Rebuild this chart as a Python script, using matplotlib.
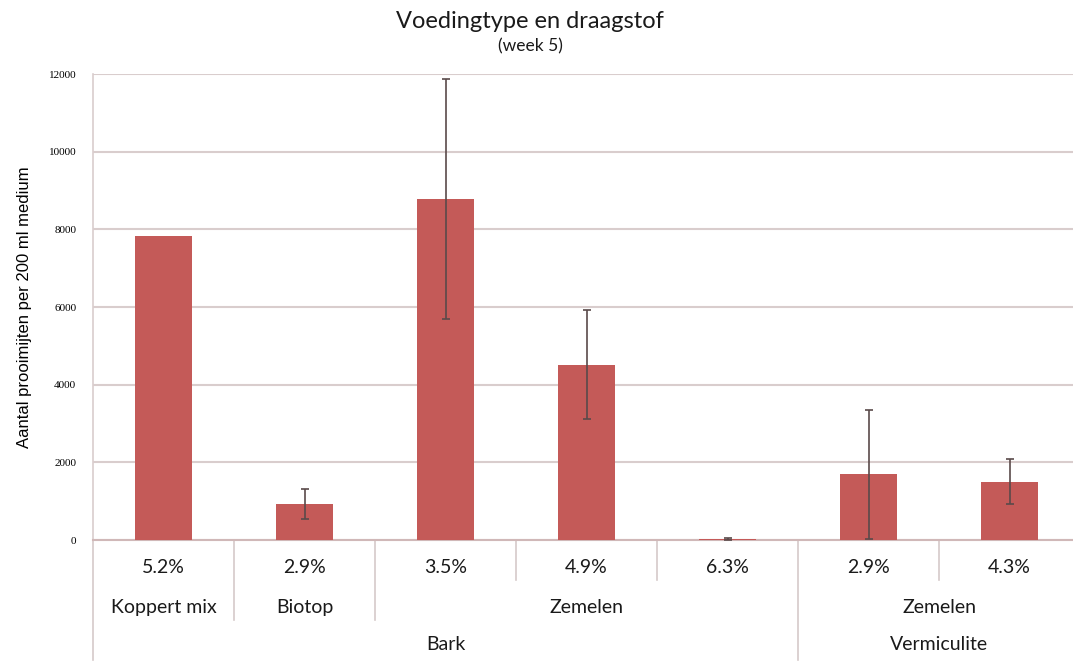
import numpy as np
import matplotlib
matplotlib.use("Agg")
import matplotlib.pyplot as plt

# values (week 5)
percentages = ["5.2%", "2.9%", "3.5%", "4.9%", "6.3%", "2.9%", "4.3%"]
counts = [7830, 930, 8780, 4520, 30, 1690, 1500]
errors = [0, 380, 3100, 1400, 20, 1660, 580]
has_err = [False, True, True, True, True, True, True]

# grouping levels of the category axis: (label, number of bars)
voeding = [("Koppert mix", 1), ("Biotop", 1), ("Zemelen", 3), ("Zemelen", 2)]
draagstof = [("Bark", 5), ("Vermiculite", 2)]

bar_color = "#C45A58"
grid_color = "#D9CDCD"
sep_color = "#D6CACA"
text_color = "#1a1a1a"
label_font = ["Lato", "DejaVu Sans"]

fig = plt.figure(figsize=(10.73, 6.61), dpi=100)
ax = fig.add_axes([0.0867, 0.183, 0.9133, 0.705])

x = np.arange(len(counts))
ax.bar(x, counts, width=0.4, color=bar_color, zorder=3)
ex = [xi for xi, h in zip(x, has_err) if h]
ey = [c for c, h in zip(counts, has_err) if h]
ee = [e for e, h in zip(errors, has_err) if h]
ax.errorbar(ex, ey, yerr=ee, fmt="none", ecolor="#5a4a4a", elinewidth=1.2,
            capsize=3, capthick=1.2, zorder=4)

ax.set_xlim(-0.5, 6.45)
ax.set_ylim(0, 12000)
ax.set_yticks(np.arange(0, 12001, 2000))
ax.yaxis.grid(True, color=grid_color, linewidth=1.5, zorder=0)
ax.set_axisbelow(True)
ax.tick_params(axis="y", length=0, pad=12, labelsize=8)
for t in ax.get_yticklabels():
    t.set_family(["Liberation Serif", "DejaVu Serif"])
ax.set_xticks([])
for s in ["top", "right"]:
    ax.spines[s].set_visible(False)
ax.spines["left"].set_color(grid_color)
ax.spines["left"].set_linewidth(1.2)
ax.spines["bottom"].set_color("#D0B8B8")
ax.spines["bottom"].set_linewidth(1.5)

ax.set_ylabel("Aantal prooimijten per 200 ml medium", fontsize=12,
              family=["Liberation Sans Narrow", "Liberation Sans", "DejaVu Sans"],
              labelpad=12)

# multi level category axis
trans = ax.get_xaxis_transform()
row_y = [-0.058, -0.144, -0.225]
row_bottom = [-0.086, -0.172, -0.258]


def sep(xpos, bottom):
    ax.plot([xpos, xpos], [0, bottom], transform=trans, color=sep_color,
            linewidth=1.2, clip_on=False)


for i, p in enumerate(percentages):
    ax.text(i, row_y[0], p, transform=trans, ha="center", va="center",
            fontsize=14, family=label_font, color=text_color)

edges = {}
for level, groups in ((1, voeding), (2, draagstof)):
    start = 0
    for name, n in groups:
        ax.text(start + (n - 1) / 2, row_y[level], name, transform=trans,
                ha="center", va="center", fontsize=14, family=label_font,
                color=text_color)
        edges[start - 0.5] = max(edges.get(start - 0.5, 0), level)
        start += n

for i in range(len(counts)):
    b = i - 0.5
    sep(b, row_bottom[edges.get(b, 0)])

fig.text(0.494, 0.968, "Voedingtype en draagstof", ha="center", va="center",
         fontsize=17, family=label_font, color=text_color)
fig.text(0.494, 0.930, "(week 5)", ha="center", va="center",
         fontsize=12.5, family=label_font, color=text_color)

fig.savefig("out.png", dpi=100)
